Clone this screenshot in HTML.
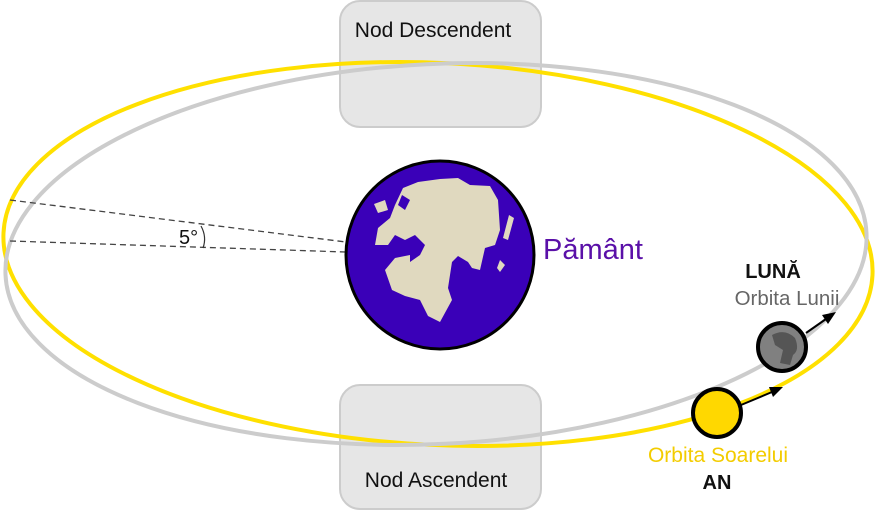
<!DOCTYPE html>
<html><head><meta charset="utf-8"><style>html,body{margin:0;padding:0;background:#fff}svg{display:block}</style></head>
<body>
<svg width="877" height="512" viewBox="0 0 877 512" xmlns="http://www.w3.org/2000/svg" font-family="Liberation Sans, sans-serif">
<rect x="340" y="1" width="201" height="126" rx="20" fill="#e6e6e6" stroke="#cccccc" stroke-width="2"/>
<rect x="340" y="385" width="201" height="124" rx="20" fill="#e6e6e6" stroke="#cccccc" stroke-width="2"/>
<text x="433" y="37" font-size="21" text-anchor="middle" fill="#111">Nod Descendent</text>
<text x="436" y="487" font-size="21" text-anchor="middle" fill="#111">Nod Ascendent</text>
<ellipse cx="438" cy="254" rx="435" ry="191" fill="none" stroke="#ffe000" stroke-width="4" transform="rotate(2.8 438 254)"/>
<ellipse cx="436" cy="254" rx="431" ry="190" fill="none" stroke="#cccccc" stroke-width="4" transform="rotate(-2.8 436 254)"/>
<line x1="10" y1="200" x2="346" y2="242" stroke="#444" stroke-width="1.3" stroke-dasharray="6,4"/>
<line x1="10" y1="241" x2="346" y2="252" stroke="#444" stroke-width="1.3" stroke-dasharray="6,4"/>
<path d="M201 226 Q207 237 203 248" fill="none" stroke="#333" stroke-width="1.2"/>
<text x="179" y="244" font-size="20" fill="#111">5°</text>
<circle cx="440" cy="255" r="94" fill="#3a00b8" stroke="#000" stroke-width="3"/>
<path d="M403 188 L418 182 L440 179 L458 178 L470 185 L490 186 L498 200 L500 230 L495 245 L485 248 L480 270 L472 268 L468 262 L458 256 L452 262 L448 288 L452 300 L440 322 L428 316 L420 300 L405 296 L392 290 L385 270 L395 258 L410 255 L410 262 L420 255 L425 245 L415 235 L405 240 L395 235 L388 245 L375 245 L378 228 L390 218 L395 205 Z" fill="#e0d9bf"/>
<path d="M374 204 L385 200 L388 210 L378 213 Z" fill="#e0d9bf"/>
<path d="M402 195 L410 200 L405 210 L398 205 Z" fill="#3a00b8"/>
<path d="M509 215 L514 218 L508 240 L503 238 Z" fill="#e0d9bf"/>
<path d="M500 260 L505 265 L500 272 L497 268 Z" fill="#e0d9bf"/>
<text x="543" y="259" font-size="29" fill="#5a10a8">Pământ</text>
<text x="773" y="278" font-size="20" font-weight="bold" text-anchor="middle" fill="#111">LUNĂ</text>
<text x="787" y="305" font-size="20.5" text-anchor="middle" fill="#666">Orbita Lunii</text>
<line x1="806" y1="333" x2="826" y2="319" stroke="#000" stroke-width="2"/>
<path d="M836 312 L822 315 L828 324 Z" fill="#000"/>
<circle cx="782" cy="347" r="24" fill="#808080" stroke="#000" stroke-width="4"/>
<path d="M772 335 Q785 328 795 338 Q800 350 793 355 L790 365 L780 363 L783 350 L775 345 Z" fill="#555"/>
<line x1="741" y1="405" x2="772" y2="392" stroke="#000" stroke-width="2"/>
<path d="M783 387 L769 387 L773 397 Z" fill="#000"/>
<circle cx="717" cy="413" r="24" fill="#ffd800" stroke="#000" stroke-width="4"/>
<text x="718" y="462" font-size="21" text-anchor="middle" fill="#f3cc00">Orbita Soarelui</text>
<text x="717" y="489" font-size="20" font-weight="bold" text-anchor="middle" fill="#111">AN</text>
</svg>
</body></html>
